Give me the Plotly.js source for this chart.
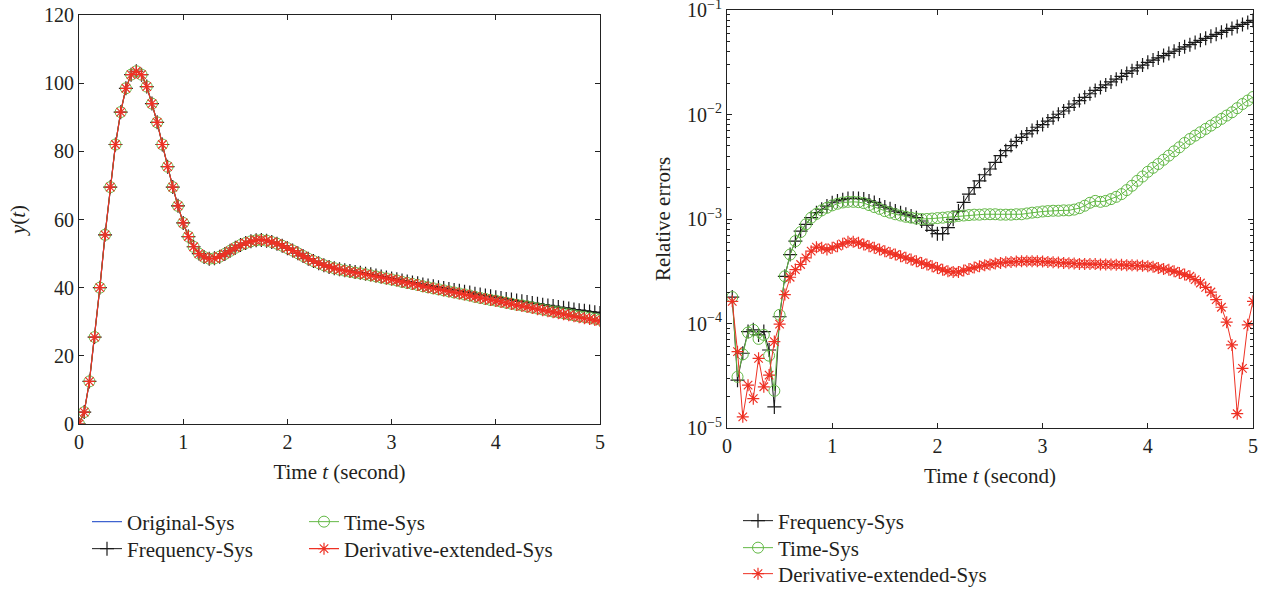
<!DOCTYPE html>
<html><head><meta charset="utf-8">
<script src="https://cdn.plot.ly/plotly-3.0.1.min.js"></script>
<style>html,body{margin:0;padding:0;background:#fff;}#chart{width:1264px;height:589px;}</style>
</head><body><div id="chart"></div>
<script>
const tLeft = [0,0.05,0.1,0.15,0.2,0.25,0.3,0.35,0.4,0.45,
0.5,0.55,0.6,0.65,0.7,0.75,0.8,0.85,0.9,0.95,
1.0,1.05,1.1,1.15,1.2,1.25,1.3,1.35,1.4,1.45,
1.5,1.55,1.6,1.65,1.7,1.75,1.8,1.85,1.9,1.95,
2.0,2.05,2.1,2.15,2.2,2.25,2.3,2.35,2.4,2.45,
2.5,2.55,2.6,2.65,2.7,2.75,2.8,2.85,2.9,2.95,
3.0,3.05,3.1,3.15,3.2,3.25,3.3,3.35,3.4,3.45,
3.5,3.55,3.6,3.65,3.7,3.75,3.8,3.85,3.9,3.95,
4.0,4.05,4.1,4.15,4.2,4.25,4.3,4.35,4.4,4.45,
4.5,4.55,4.6,4.65,4.7,4.75,4.8,4.85,4.9,4.95,
5.0];

const yOriginal = [0,3.5,12.5,25.5,40,55.5,69.5,82,91.5,98.5,
102.5,103.5,102.5,99,94,88.5,82,75.5,69.5,64,
59,55,52,50,49,48.5,48.6,49.1,49.9,50.8,
51.7,52.5,53.1,53.6,53.9,54.0,53.8,53.4,52.9,52.3,
51.6,50.9,50.1,49.3,48.5,47.8,47.2,46.6,46.1,45.7,
45.3,45.0,44.7,44.4,44.2,43.9,43.6,43.3,43.0,42.7,
42.4,42.1,41.7,41.4,41.1,40.8,40.4,40.1,39.8,39.5,
39.2,38.9,38.6,38.3,38.0,37.7,37.3,37.0,36.7,36.4,
36.1,35.8,35.5,35.2,34.9,34.6,34.3,34.0,33.7,33.4,
33.1,32.8,32.5,32.2,31.9,31.6,31.3,31.0,30.8,30.5,
30.2];

const yFrequency = [0,3.5,12.5,25.5,40,55.5,69.5,82,91.5,98.5,
102.5,103.5,102.5,99,94,88.5,82,75.5,69.5,64,
59,55,52,50,49,48.5,48.6,49.1,49.9,50.8,
51.7,52.5,53.1,53.6,53.9,54.0,53.8,53.4,52.9,52.3,
51.6,50.9,50.1,49.3,48.5,47.8,47.2,46.6,46.1,45.7,
45.4,45.1,44.9,44.6,44.4,44.1,43.9,43.6,43.3,43.0,
42.7,42.5,42.1,41.8,41.5,41.3,40.9,40.6,40.4,40.1,
39.9,39.6,39.3,39.1,38.8,38.6,38.2,38.0,37.7,37.5,
37.2,37.0,36.7,36.5,36.2,36.0,35.8,35.5,35.3,35.0,
34.8,34.6,34.3,34.1,33.9,33.6,33.4,33.2,33.0,32.8,
32.6];

const yTime = [0,3.5,12.5,25.5,40,55.5,69.5,82,91.5,98.5,
102.5,103.5,102.5,99,94,88.5,82,75.5,69.5,64,
59,55,52,50,49,48.5,48.6,49.1,49.9,50.8,
51.7,52.5,53.1,53.6,53.9,54.0,53.8,53.4,52.9,52.3,
51.6,50.9,50.1,49.3,48.5,47.8,47.2,46.6,46.1,45.7,
45.3,45.0,44.7,44.4,44.2,43.9,43.6,43.3,43.0,42.7,
42.4,42.1,41.7,41.4,41.1,40.8,40.4,40.1,39.8,39.5,
39.2,38.9,38.6,38.3,38.0,37.7,37.3,37.0,36.7,36.4,
36.2,35.9,35.6,35.3,35.0,34.8,34.5,34.2,33.9,33.6,
33.3,33.0,32.8,32.5,32.2,31.9,31.6,31.4,31.2,30.9,
30.6];

const yDerivative = [0,3.5,12.5,25.5,40,55.5,69.5,82,91.5,98.5,
102.5,103.5,102.5,99,94,88.5,82,75.5,69.5,64,
59,55,52,50,49,48.5,48.6,49.1,49.9,50.8,
51.7,52.5,53.1,53.6,53.9,54.0,53.8,53.4,52.9,52.3,
51.6,50.9,50.1,49.3,48.5,47.8,47.2,46.6,46.1,45.7,
45.3,45.0,44.7,44.4,44.2,43.9,43.6,43.3,43.0,42.7,
42.4,42.1,41.7,41.4,41.1,40.8,40.4,40.1,39.8,39.5,
39.2,38.9,38.6,38.3,38.0,37.7,37.3,37.0,36.7,36.4,
36.1,35.8,35.5,35.2,34.9,34.6,34.3,34.0,33.7,33.4,
33.1,32.8,32.5,32.2,31.9,31.6,31.3,31.0,30.8,30.5,
30.2];

const tRight = [0.05,0.1,0.15,0.2,0.25,0.3,0.35,0.4,0.45,0.5,
0.55,0.6,0.65,0.7,0.75,0.8,0.85,0.9,0.95,1.0,
1.05,1.1,1.15,1.2,1.25,1.3,1.35,1.4,1.45,1.5,
1.55,1.6,1.65,1.7,1.75,1.8,1.85,1.9,1.95,2.0,
2.05,2.1,2.15,2.2,2.25,2.3,2.35,2.4,2.45,2.5,
2.55,2.6,2.65,2.7,2.75,2.8,2.85,2.9,2.95,3.0,
3.05,3.1,3.15,3.2,3.25,3.3,3.35,3.4,3.45,3.5,
3.55,3.6,3.65,3.7,3.75,3.8,3.85,3.9,3.95,4.0,
4.05,4.1,4.15,4.2,4.25,4.3,4.35,4.4,4.45,4.5,
4.55,4.6,4.65,4.7,4.75,4.8,4.85,4.9,4.95,5.0];

const errFrequency = [1.79e-4,2.87e-5,5.19e-5,8.37e-5,8.69e-5,7.78e-5,8.37e-5,5.58e-5,1.59e-5,1.16e-4,
2.83e-4,4.57e-4,6.14e-4,7.67e-4,8.89e-4,1.03e-3,1.15e-3,1.24e-3,1.33e-3,1.43e-3,
1.49e-3,1.53e-3,1.57e-3,1.58e-3,1.57e-3,1.55e-3,1.49e-3,1.44e-3,1.36e-3,1.30e-3,
1.25e-3,1.19e-3,1.15e-3,1.11e-3,1.07e-3,1.03e-3,9.57e-4,8.75e-4,7.78e-4,7.23e-4,
7.23e-4,8.26e-4,9.93e-4,1.19e-3,1.44e-3,1.73e-3,2.00e-3,2.32e-3,2.65e-3,3.01e-3,
3.48e-3,4.04e-3,4.51e-3,5.04e-3,5.54e-3,6.05e-3,6.52e-3,7.02e-3,7.55e-3,8.01e-3,
8.65e-3,9.33e-3,1.005e-2,1.08e-2,1.17e-2,1.26e-2,1.36e-2,1.46e-2,1.58e-2,1.70e-2,
1.81e-2,1.92e-2,2.05e-2,2.18e-2,2.32e-2,2.47e-2,2.62e-2,2.79e-2,2.97e-2,3.16e-2,
3.32e-2,3.48e-2,3.66e-2,3.84e-2,4.03e-2,4.23e-2,4.44e-2,4.66e-2,4.89e-2,5.13e-2,
5.36e-2,5.60e-2,5.85e-2,6.11e-2,6.38e-2,6.67e-2,6.97e-2,7.28e-2,7.60e-2,7.94e-2];

const errTime = [1.79e-4,3.09e-5,5.07e-5,8.19e-5,8.69e-5,7.13e-5,7.78e-5,4.92e-5,2.27e-5,1.21e-4,
2.83e-4,4.57e-4,6.14e-4,7.50e-4,8.89e-4,1.03e-3,1.12e-3,1.21e-3,1.28e-3,1.35e-3,
1.40e-3,1.44e-3,1.46e-3,1.46e-3,1.45e-3,1.42e-3,1.36e-3,1.30e-3,1.25e-3,1.19e-3,
1.15e-3,1.11e-3,1.08e-3,1.05e-3,1.03e-3,1.01e-3,1.00e-3,1.00e-3,1.01e-3,1.02e-3,
1.03e-3,1.04e-3,1.05e-3,1.07e-3,1.08e-3,1.09e-3,1.10e-3,1.10e-3,1.11e-3,1.11e-3,
1.11e-3,1.10e-3,1.10e-3,1.10e-3,1.11e-3,1.11e-3,1.13e-3,1.15e-3,1.16e-3,1.18e-3,
1.19e-3,1.20e-3,1.20e-3,1.21e-3,1.21e-3,1.23e-3,1.27e-3,1.34e-3,1.43e-3,1.49e-3,
1.46e-3,1.49e-3,1.55e-3,1.63e-3,1.73e-3,1.89e-3,2.08e-3,2.32e-3,2.55e-3,2.83e-3,
3.09e-3,3.36e-3,3.69e-3,4.04e-3,4.44e-3,4.85e-3,5.34e-3,5.83e-3,6.28e-3,6.76e-3,
7.28e-3,7.83e-3,8.43e-3,9.08e-3,9.77e-3,1.05e-2,1.15e-2,1.26e-2,1.36e-2,1.47e-2];

const errDerivative = [1.63e-4,5.38e-5,1.28e-5,2.57e-5,1.91e-5,4.64e-5,2.48e-5,3.21e-5,6.71e-5,9.86e-5,
1.89e-4,2.77e-4,3.28e-4,3.67e-4,4.25e-4,4.92e-4,5.38e-4,5.30e-4,5.10e-4,5.30e-4,
5.50e-4,5.79e-4,6.05e-4,6.05e-4,5.92e-4,5.70e-4,5.50e-4,5.30e-4,5.10e-4,4.92e-4,
4.74e-4,4.57e-4,4.41e-4,4.25e-4,4.09e-4,3.94e-4,3.80e-4,3.67e-4,3.54e-4,3.40e-4,
3.26e-4,3.16e-4,3.11e-4,3.11e-4,3.21e-4,3.33e-4,3.43e-4,3.54e-4,3.61e-4,3.67e-4,
3.75e-4,3.80e-4,3.86e-4,3.88e-4,3.91e-4,3.94e-4,3.94e-4,3.94e-4,3.94e-4,3.91e-4,
3.88e-4,3.86e-4,3.83e-4,3.80e-4,3.78e-4,3.75e-4,3.72e-4,3.72e-4,3.70e-4,3.70e-4,
3.67e-4,3.67e-4,3.67e-4,3.64e-4,3.64e-4,3.61e-4,3.61e-4,3.59e-4,3.56e-4,3.54e-4,
3.49e-4,3.40e-4,3.33e-4,3.26e-4,3.16e-4,3.05e-4,2.94e-4,2.83e-4,2.63e-4,2.44e-4,
2.22e-4,2.00e-4,1.69e-4,1.43e-4,1.03e-4,6.24e-5,1.37e-5,3.72e-5,9.71e-5,1.63e-4];

const xTickVals = [0,1,2,3,4,5];
const yLeftTickVals = [0,20,40,60,80,100,120];
const yRightTickVals = [1e-5,1e-4,1e-3,1e-2,1e-1];
const yRightTickText = ['10<sup>−5</sup>','10<sup>−4</sup>','10<sup>−3</sup>','10<sup>−2</sup>','10<sup>−1</sup>'];
const yRightMinor = [];
yRightTickVals.slice(0,4).forEach(d => { for (let k = 2; k <= 9; k++) yRightMinor.push(d*k); });

const FONT = 'Liberation Serif, Times New Roman, serif';
const TXT = '#231f20';
const BLUE = '#3f63d0', BLACK = '#1a1a1a', GREEN = '#62b845', RED = '#ee3124';

const mk = {
  freq: {symbol: 'cross-thin-open', size: 10, color: BLACK, line: {color: BLACK, width: 1.2}},
  time: {symbol: 'circle-open', size: 11, color: GREEN, line: {color: GREEN, width: 1}},
  deriv: {symbol: 'asterisk-open', size: 10, color: RED, line: {color: RED, width: 1.2}}
};

const traces = [
  {x: tLeft, y: yOriginal, name: 'Original-Sys', mode: 'lines', line: {color: BLUE, width: 1.2}, xaxis: 'x', yaxis: 'y', legend: 'legend'},
  {x: tLeft, y: yFrequency, name: 'Frequency-Sys', mode: 'lines+markers', line: {color: BLACK, width: 1}, marker: mk.freq, xaxis: 'x', yaxis: 'y', legend: 'legend2'},
  {x: tLeft, y: yTime, name: 'Time-Sys', mode: 'lines+markers', line: {color: GREEN, width: 1}, marker: mk.time, xaxis: 'x', yaxis: 'y', legend: 'legend3'},
  {x: tLeft, y: yDerivative, name: 'Derivative-extended-Sys', mode: 'lines+markers', line: {color: RED, width: 1.2}, marker: mk.deriv, xaxis: 'x', yaxis: 'y', legend: 'legend4'},
  {x: tRight, y: errFrequency, name: 'Frequency-Sys', mode: 'lines+markers', line: {color: BLACK, width: 1}, marker: mk.freq, xaxis: 'x2', yaxis: 'y2', legend: 'legend5'},
  {x: tRight, y: errTime, name: 'Time-Sys', mode: 'lines+markers', line: {color: GREEN, width: 1}, marker: mk.time, xaxis: 'x2', yaxis: 'y2', legend: 'legend6'},
  {x: tRight, y: errDerivative, name: 'Derivative-extended-Sys', mode: 'lines+markers', line: {color: RED, width: 1}, marker: mk.deriv, xaxis: 'x2', yaxis: 'y2', legend: 'legend7'}
];

const axisBase = {
  showline: true, linecolor: '#222', linewidth: 1, mirror: 'allticks', ticks: 'inside', ticklen: 5,
  tickcolor: '#222', showgrid: false, zeroline: false, ticklabeloverflow: 'allow', automargin: false,
  tickfont: {family: FONT, size: 20, color: TXT}
};
const titleFont = {family: FONT, size: 21, color: TXT};
function leg(px, py) {
  return {font: {family: FONT, size: 21, color: TXT}, bgcolor: 'rgba(0,0,0,0)', xanchor: 'left', yanchor: 'middle',
    itemwidth: 30, x: px/1264, y: 1 - py/589};
}

const layout = {
  width: 1264, height: 589, margin: {l: 0, r: 0, t: 0, b: 0, autoexpand: false}, paper_bgcolor: '#fff', plot_bgcolor: '#fff',
  font: {family: FONT, color: TXT},
  xaxis: Object.assign({}, axisBase, {domain: [79/1264, 600/1264], range: [0, 5], tickvals: xTickVals, anchor: 'y',
    title: {text: 'Time <i>t</i> (second)', font: titleFont, standoff: 12}}),
  yaxis: Object.assign({}, axisBase, {domain: [1-424/589, 1-15/589], range: [0, 120], tickvals: yLeftTickVals, anchor: 'x',
    title: {text: '<i>y</i>(<i>t</i>)', font: titleFont, standoff: 12}}),
  xaxis2: Object.assign({}, axisBase, {domain: [727/1264, 1253/1264], range: [0, 5], tickvals: xTickVals, anchor: 'y2',
    title: {text: 'Time <i>t</i> (second)', font: titleFont, standoff: 12}}),
  yaxis2: Object.assign({}, axisBase, {domain: [1-428/589, 1-10/589], type: 'log', range: [-5, -1], anchor: 'x2',
    tickvals: yRightTickVals, ticktext: yRightTickText,
    minor: {tickvals: yRightMinor, ticks: 'inside', ticklen: 3, tickcolor: '#222'},
    title: {text: 'Relative errors', font: titleFont, standoff: 10}}),
  legend: leg(87, 522),
  legend2: leg(87, 549),
  legend3: leg(304, 522),
  legend4: leg(304, 549),
  legend5: leg(738, 521),
  legend6: leg(738, 548),
  legend7: leg(738, 574),
  showlegend: true
};

Plotly.newPlot('chart', traces, layout, {displayModeBar: false, staticPlot: true});
</script></body></html>
